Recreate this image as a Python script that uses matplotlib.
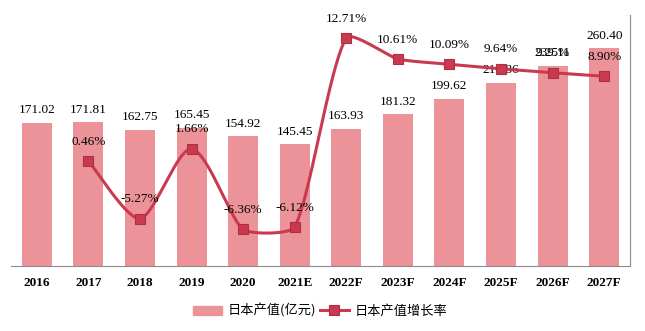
import numpy as np
import matplotlib

matplotlib.use("Agg")
import matplotlib.pyplot as plt

years = ["2016", "2017", "2018", "2019", "2020", "2021E", "2022F",
         "2023F", "2024F", "2025F", "2026F", "2027F"]
output = [171.02, 171.81, 162.75, 165.45, 154.92, 145.45, 163.93,
          181.32, 199.62, 218.86, 239.11, 260.40]
growth = [None, 0.46, -5.27, 1.66, -6.36, -6.12, 12.71,
          10.61, 10.09, 9.64, 9.25, 8.90]

BAR_COLOR = "#EC9399"
LINE_COLOR = "#C93A50"
SERIF = "Liberation Serif"
CJK = ["Noto Sans CJK SC", "DejaVu Sans"]


def smooth_curve(pts, n=40):
    """Bezier smoothing through display-space points; control arms kept short on short segments."""
    pts = np.asarray(pts, dtype=float)
    out = []
    for i in range(len(pts) - 1):
        p0 = pts[max(i - 1, 0)]
        p1 = pts[i]
        p2 = pts[i + 1]
        p3 = pts[min(i + 2, len(pts) - 1)]
        d12 = np.hypot(*(p2 - p1))
        t1 = p2 - p0
        t2 = p3 - p1
        t1 = t1 / (np.hypot(*t1) or 1)
        t2 = t2 / (np.hypot(*t2) or 1)
        a1 = min(np.hypot(*(p2 - p0)), d12) / 6
        a2 = min(np.hypot(*(p3 - p1)), d12) / 6
        c1 = p1 + t1 * a1
        c2 = p2 - t2 * a2
        t = np.linspace(0, 1, n)[:, None]
        seg = ((1 - t) ** 3) * p1 + 3 * ((1 - t) ** 2) * t * c1 \
            + 3 * (1 - t) * t ** 2 * c2 + t ** 3 * p2
        out.append(seg if i == 0 else seg[1:])
    return np.vstack(out)


fig = plt.figure(figsize=(6.45, 3.31), dpi=100)
ax = fig.add_axes([11 / 645, 1 - 266 / 331, 619 / 645, 251 / 331])
x = np.arange(len(years))

ax.bar(x, output, width=0.58, color=BAR_COLOR, zorder=1, label="日本产值(亿元)")
ax.set_xlim(-0.5, len(years) - 0.5)
ax.set_ylim(0, 300)
for xi, v in zip(x, output):
    ax.annotate(f"{v:.2f}", (xi, v), xytext=(0, 9), textcoords="offset points",
                ha="center", va="center", fontsize=9.5, family=SERIF, zorder=5)

ax2 = ax.twinx()
ax2.set_ylim(-10, 15)
gx = [xi for xi, g in zip(x, growth) if g is not None]
gy = [g for g in growth if g is not None]

# smooth in pixel space, then map back to data coordinates
disp = ax2.transData.transform(np.column_stack([gx, gy]))
curve = ax2.transData.inverted().transform(smooth_curve(disp))
ax2.plot(curve[:, 0], curve[:, 1], color=LINE_COLOR, lw=2.2, zorder=3)
ax2.plot(gx, gy, ls="none", marker="s", ms=7.5, color=LINE_COLOR,
         mec="#B02E42", mew=0.8, zorder=4)
for xi, g in zip(gx, gy):
    ax2.annotate(f"{g:.2f}%", (xi, g), xytext=(0, 14), textcoords="offset points",
                 ha="center", va="center", fontsize=9.5, family=SERIF, zorder=5)

for a in (ax, ax2):
    a.set_yticks([])
    for s in ("top", "left"):
        a.spines[s].set_visible(False)
    a.spines["bottom"].set_color("#8C8C8C")
    a.spines["right"].set_color("#8C8C8C")
ax.spines["right"].set_visible(False)
ax2.spines["bottom"].set_visible(False)

ax.set_xticks(x)
ax.set_xticklabels(years, fontsize=9.5, family=SERIF, fontweight="bold")
ax.tick_params(axis="x", length=0, pad=8)

line_handle = plt.Line2D([], [], color=LINE_COLOR, lw=2.2, marker="s", ms=7.5,
                         mec="#B02E42", mew=0.8)
bar_handle = plt.Rectangle((0, 0), 1, 1, color=BAR_COLOR)
fig.legend([bar_handle, line_handle], ["日本产值(亿元)", "日本产值增长率"],
           loc="center", bbox_to_anchor=(320 / 645, 1 - 311 / 331), ncol=2,
           frameon=False, prop={"family": CJK, "size": 9.5},
           handlelength=2.2, handletextpad=0.4, columnspacing=0.3)

fig.savefig("out.png", dpi=100)
